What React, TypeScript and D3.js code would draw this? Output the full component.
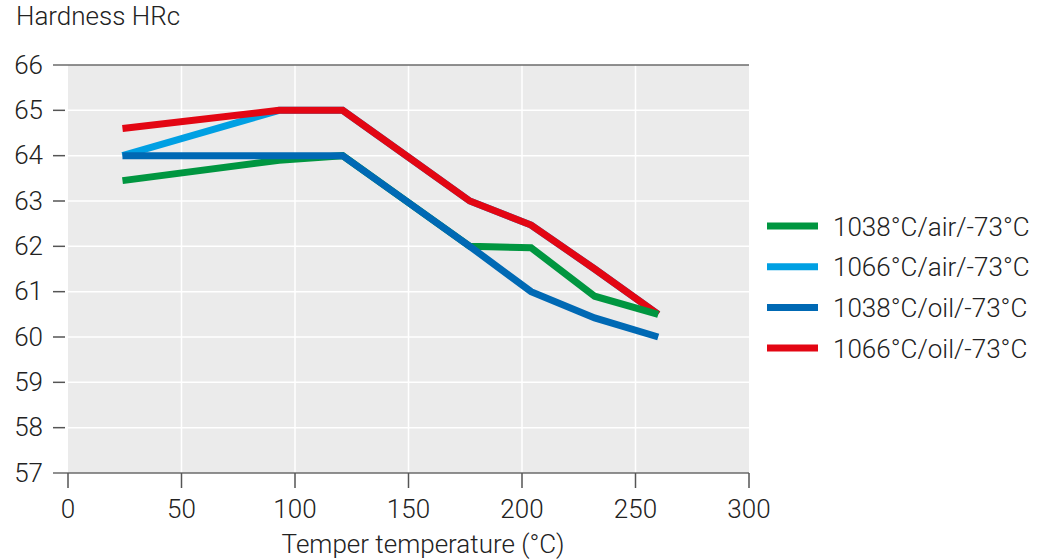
import React from "react";
import * as d3 from "d3";

const temps = [24, 93, 121, 149, 177, 204, 232, 260];
const green1038Air = [63.45, 63.9, 64, 63, 62, 61.97, 60.9, 60.5];
const lightBlue1066Air = [64, 65, 65, 64, 63, 62.47, 61.5, 60.5];
const blue1038Oil = [64, 64, 64, 63, 62, 61, 60.42, 60];
const red1066Oil = [64.6, 65, 65, 64, 63, 62.47, 61.5, 60.5];

const seriesNames = ["1038°C/air/-73°C", "1066°C/air/-73°C", "1038°C/oil/-73°C", "1066°C/oil/-73°C"];
const seriesColors = ["#009640", "#00a0e3", "#0069b4", "#e30613"];
const seriesValues = [green1038Air, lightBlue1066Air, blue1038Oil, red1066Oil];
// drawing order (bottom to top): light blue, red, green, dark blue
const drawOrder = [1, 3, 0, 2];

const xTicks = [0, 50, 100, 150, 200, 250, 300];
const yTicks = [57, 58, 59, 60, 61, 62, 63, 64, 65, 66];

const FONT = "Roboto, 'Liberation Sans', Arial, sans-serif";
const FS = 26;

export default function App() {
  const x = d3.scaleLinear().domain([0, 300]).range([68, 749]);
  const y = d3.scaleLinear().domain([57, 66]).range([473, 65]);
  const line = d3
    .line<[number, number]>()
    .x((d) => x(d[0]))
    .y((d) => y(d[1]));

  return (
    <svg
      width={1049}
      height={559}
      style={{ position: "absolute", left: 0, top: 0, background: "#fff" }}
      fontFamily={FONT}
    >
      <rect x={x(0)} y={y(66)} width={x(300) - x(0)} height={y(57) - y(66)} fill="#ebebeb" />
      {xTicks.slice(1, -1).map((t) => (
        <line key={"vx" + t} x1={x(t)} x2={x(t)} y1={y(66)} y2={y(57)} stroke="#fff" strokeWidth={1.5} />
      ))}
      {yTicks.slice(1, -1).map((t) => (
        <line key={"hy" + t} x1={x(0)} x2={x(300)} y1={y(t)} y2={y(t)} stroke="#fff" strokeWidth={1.5} />
      ))}
      <line x1={53} x2={x(300)} y1={y(66)} y2={y(66)} stroke="#6b6b6b" strokeWidth={1.5} />
      <line x1={53} x2={x(300)} y1={y(57)} y2={y(57)} stroke="#6b6b6b" strokeWidth={1.5} />
      {yTicks.slice(1, -1).map((t) => (
        <line key={"ty" + t} x1={53} x2={65} y1={y(t)} y2={y(t)} stroke="#555" strokeWidth={1.5} />
      ))}
      {xTicks.map((t) => (
        <line key={"tx" + t} x1={x(t)} x2={x(t)} y1={y(57)} y2={y(57) + 15} stroke="#555" strokeWidth={1.5} />
      ))}
      {yTicks.map((t) => (
        <text key={"ly" + t} x={43} y={y(t) + 8.5} textAnchor="end" fontSize={FS} fontWeight={300} fill="#222">
          {t}
        </text>
      ))}
      {xTicks.map((t) => (
        <text key={"lx" + t} x={x(t)} y={518} textAnchor="middle" fontSize={FS} fontWeight={300} fill="#222">
          {t}
        </text>
      ))}
      <text x={16} y={25} fontSize={FS} fontWeight={300} fill="#222">
        Hardness HRc
      </text>
      <text x={423} y={553} textAnchor="middle" fontSize={FS} fontWeight={300} fill="#222">
        Temper temperature (°C)
      </text>
      {drawOrder.map((i) => (
        <path
          key={"s" + i}
          d={line(temps.map((t, j) => [t, seriesValues[i][j]] as [number, number])) || ""}
          fill="none"
          stroke={seriesColors[i]}
          strokeWidth={7}
          strokeLinejoin="miter"
        />
      ))}
      {seriesNames.map((n, i) => (
        <g key={"lg" + i} transform={`translate(0, ${226 + i * 40.7})`}>
          <line x1={767} x2={818} y1={0} y2={0} stroke={seriesColors[i]} strokeWidth={7} />
          <text x={833} y={9.5} fontSize={FS} fontWeight={300} fill="#222">
            {n}
          </text>
        </g>
      ))}
    </svg>
  );
}
